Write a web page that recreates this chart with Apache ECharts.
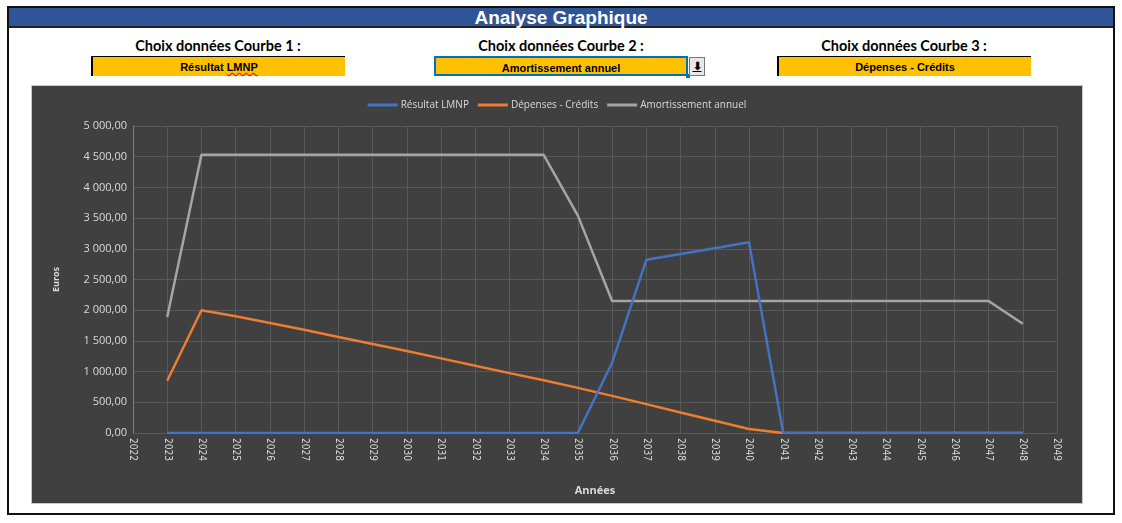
<!DOCTYPE html>
<html><head><meta charset="utf-8">
<script src="https://cdn.jsdelivr.net/npm/echarts@6/dist/echarts.min.js"></script>
<style>
body{margin:0;background:#fff;width:1122px;height:523px;position:relative;overflow:hidden;font-family:"Liberation Sans",Arial,sans-serif}
#frame{position:absolute;left:7px;top:6px;width:1108px;height:509px;border:2px solid #111;box-sizing:border-box}
#title{position:absolute;left:9px;top:8px;width:1104px;height:18px;background:#2F5597;border-bottom:2px solid #222;color:#fff;font-family:"Liberation Sans Narrow","Liberation Sans",Arial,sans-serif;font-stretch:condensed;font-weight:bold;font-size:19px;line-height:19px;text-align:center}
.lbl{position:absolute;top:37px;width:260px;text-align:center;font-family:Lato,"Open Sans",sans-serif;font-weight:bold;font-size:14.5px;color:#000}
.box{position:absolute;top:56px;width:254px;height:20px;background:#FFC000;box-sizing:border-box;text-align:center;font-family:"Liberation Sans Narrow","Liberation Sans",Arial,sans-serif;font-stretch:condensed;font-weight:bold;font-size:11px;line-height:20px;color:#000}
#chart{position:absolute;left:32px;top:86px;width:1050px;height:417px;box-shadow:0 0 0 1px #c8c8c8}
</style></head><body>
<div id="frame"></div>
<div id="title">Analyse Graphique</div>
<div class="lbl" style="left:88px">Choix données Courbe 1 :</div>
<div class="lbl" style="left:431px">Choix données Courbe 2 :</div>
<div class="lbl" style="left:774px">Choix données Courbe 3 :</div>
<div class="box" style="left:91px;border-left:2px solid #000;border-top:1px solid #000">Résultat <span style="text-decoration:underline wavy red">LMNP</span></div>
<div class="box" style="left:434px;border:2px solid #0070C0">Amortissement annuel</div>
<div style="position:absolute;left:686px;top:74px;width:4px;height:4px;background:#0070C0"></div>
<div style="position:absolute;left:689px;top:57px;width:16px;height:19px;background:#e8e8e8;border:1px solid #777;box-sizing:border-box;text-align:center;font-size:11px;line-height:16px;font-weight:bold;text-decoration:underline">&#x2B07;</div>
<div class="box" style="left:777px;border-left:2px solid #000;border-top:1px solid #000">Dépenses - Crédits</div>
<div id="chart"></div>
<script>
const years = [2023,2024,2025,2026,2027,2028,2029,2030,2031,2032,2033,2034,2035,2036,2037,2038,2039,2040,2041,2042,2043,2044,2045,2046,2047,2048];
const resultatLMNP = [0,0,0,0,0,0,0,0,0,0,0,0,0,1145,2820,2915,3010,3105,0,0,0,0,0,0,0,0];
const depensesCredits = [850,2000,1900,1790,1680,1565,1450,1335,1215,1095,975,860,735,605,470,335,200,65,0,0,0,0,0,0,0,0];
const amortissement = [1890,4530,4530,4530,4530,4530,4530,4530,4530,4530,4530,4530,3540,2150,2150,2150,2150,2150,2150,2150,2150,2150,2150,2150,2150,1780];
const seriesNames = ['Résultat LMNP','Dépenses - Crédits','Amortissement annuel'];
const yAxisName = 'Euros';
const xAxisName = 'Années';

function pairs(vals){return years.map((y,i)=>[y,vals[i]]);}
function fmtEuro(v){
  const s = v.toFixed(2).split('.');
  const int = s[0].replace(/\B(?=(\d{3})+(?!\d))/g,' ');
  return int + ',' + s[1];
}
const chart = echarts.init(document.getElementById('chart'));
const txt = '#d9d9d9';
chart.setOption({
  backgroundColor:'#404040',
  animation:false,
  legend:{top:9,left:'center',itemWidth:30,itemHeight:3,itemGap:9,icon:'rect',
    textStyle:{color:txt,fontSize:10,padding:[0,0,0,-2],fontFamily:'"Open Sans",sans-serif'},
    data:seriesNames},
  grid:{left:101,right:25,top:40,bottom:70},
  xAxis:{type:'value',min:2022,max:2049,interval:1,
    name:xAxisName,nameLocation:'middle',nameGap:52,
    nameTextStyle:{color:txt,fontSize:11,fontWeight:'bold',fontFamily:'"Open Sans",sans-serif'},
    axisLine:{show:true,lineStyle:{color:'#595959'}},axisTick:{show:false},
    axisLabel:{rotate:-90,color:txt,fontSize:10,margin:5,fontFamily:'"DejaVu Sans Condensed","DejaVu Sans",sans-serif',formatter:v=>String(v)},
    splitLine:{show:true,lineStyle:{color:'#595959',width:1}}},
  yAxis:{type:'value',min:0,max:5000,interval:500,
    name:yAxisName,nameLocation:'middle',nameGap:72,nameRotate:90,
    nameTextStyle:{color:txt,fontSize:9,fontWeight:'bold',fontFamily:'"Open Sans",sans-serif'},
    axisLine:{show:true,lineStyle:{color:'#7f7f7f'}},axisTick:{show:false},
    axisLabel:{color:txt,fontSize:11,margin:6,fontFamily:'"Open Sans",sans-serif',formatter:fmtEuro},
    splitLine:{show:true,lineStyle:{color:'#595959',width:1}}},
  series:[
    {name:seriesNames[0],type:'line',data:pairs(resultatLMNP),symbol:'none',lineStyle:{width:2.5,color:'#4472C4'},itemStyle:{color:'#4472C4'},z:4},
    {name:seriesNames[1],type:'line',data:pairs(depensesCredits),symbol:'none',lineStyle:{width:2.5,color:'#ED7D31'},itemStyle:{color:'#ED7D31'},z:3},
    {name:seriesNames[2],type:'line',data:pairs(amortissement),symbol:'none',lineStyle:{width:2.5,color:'#A5A5A5'},itemStyle:{color:'#A5A5A5'},z:2}
  ]
});
</script>
</body></html>
